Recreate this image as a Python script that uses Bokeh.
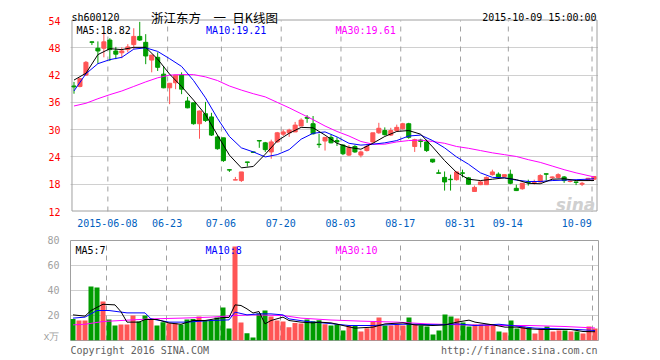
from bokeh.plotting import figure
from bokeh.layouts import column
from bokeh.models import Range1d, FixedTicker, Label
from bokeh.core.properties import value
from bokeh.embed import file_html
from bokeh.resources import INLINE

# ---------------- data ----------------
opens = [39.6, 39.5, 42.0, 49.3, 47.9, 47.9, 49.7, 47.3, 46.9, 47.6,
         48.7, 50.5, 49.2, 45.3, 45.9, 42.2, 39.2, 40.3, 42.0, 36.3,
         35.9, 31.3, 33.5, 32.8, 28.4, 28.2, 21.2, 18.9, 18.8, 22.9,
         25.1, 27.6, 27.1, 25.1, 27.3, 29.0, 29.3, 29.5, 30.8, 32.7,
         31.3, 26.8, 27.5, 28.3, 27.6, 26.6, 24.4, 26.3, 24.4, 25.4,
         27.3, 29.3, 29.8, 28.8, 29.8, 30.2, 31.3, 26.3, 27.7, 27.3,
         23.5, 20.5, 19.5, 19.1, 19.0, 20.5, 19.4, 16.4, 17.9, 17.9,
         20.1, 20.2, 19.7, 20.2, 17.1, 17.0, 18.5, 18.4, 18.5, 20.3,
         19.4, 19.5, 19.6, 18.6, 18.5, 18.0, 18.9, 19.1]
highs = [40.5, 41.4, 45.1, 49.4, 49.4, 51.4, 50.1, 48.2, 48.1, 48.8,
         52.3, 53.7, 51.0, 46.4, 47.0, 44.0, 40.2, 42.0, 42.6, 37.2,
         35.9, 34.2, 36.1, 33.7, 28.8, 28.2, 21.2, 19.6, 20.7, 22.9,
         25.1, 27.6, 27.3, 27.8, 29.5, 30.0, 30.2, 31.7, 32.5, 33.2,
         33.0, 29.1, 28.3, 28.9, 28.3, 26.8, 26.6, 26.6, 25.4, 26.8,
         29.3, 31.5, 30.5, 30.4, 31.1, 31.5, 31.5, 28.0, 28.0, 27.8,
         23.5, 21.2, 20.8, 20.1, 20.8, 21.2, 19.6, 17.7, 18.8, 19.7,
         21.2, 20.6, 20.1, 21.2, 17.9, 18.2, 19.0, 19.0, 20.2, 20.3,
         19.7, 20.4, 19.8, 18.9, 18.5, 18.5, 19.4, 19.8]
lows = [37.9, 39.3, 41.8, 48.6, 44.5, 45.9, 45.1, 45.5, 45.7, 47.0,
        47.7, 49.5, 44.4, 42.6, 42.9, 39.1, 35.6, 38.9, 37.8, 34.7,
        31.1, 28.0, 31.7, 28.6, 25.6, 22.9, 20.7, 18.9, 18.5, 21.9,
        24.9, 26.0, 25.1, 23.6, 27.1, 28.6, 28.4, 29.5, 30.8, 31.5,
        28.9, 26.0, 25.4, 27.0, 26.4, 24.4, 24.2, 24.9, 23.9, 25.2,
        27.1, 29.1, 28.7, 28.6, 29.5, 30.0, 28.0, 25.1, 26.1, 25.1,
        22.7, 20.4, 16.6, 16.6, 18.8, 19.5, 17.9, 16.3, 17.8, 17.9,
        19.9, 19.2, 19.6, 18.0, 16.5, 16.8, 17.7, 17.9, 18.3, 18.8,
        19.2, 19.3, 18.3, 18.4, 17.8, 17.6, 18.7, 18.9]
closes = [39.4, 41.2, 44.8, 49.2, 47.3, 49.3, 47.6, 46.6, 47.3, 48.2,
          50.5, 49.7, 46.2, 46.4, 43.7, 39.2, 40.2, 42.0, 38.9, 34.8,
          31.3, 34.1, 32.0, 28.8, 25.8, 23.2, 21.1, 19.0, 20.7, 22.8,
          25.0, 27.5, 25.6, 27.3, 29.3, 29.5, 29.9, 31.0, 32.1, 32.5,
          29.1, 26.7, 28.3, 27.1, 27.3, 24.7, 26.1, 25.1, 25.1, 26.3,
          29.3, 30.3, 28.9, 29.8, 30.5, 31.3, 28.3, 27.8, 27.4, 25.4,
          22.9, 20.4, 18.5, 19.0, 20.7, 20.4, 18.0, 17.3, 18.5, 19.5,
          20.7, 19.5, 20.1, 18.2, 16.6, 18.2, 18.4, 18.5, 19.9, 20.2,
          19.6, 20.1, 18.8, 18.7, 18.4, 18.2, 19.3, 19.7]
volumes = [17.3, 16.0, 16.0, 43.2, 42.4, 31.2, 16.8, 12.0, 12.8, 12.8,
           20.0, 15.2, 20.0, 16.8, 12.0, 14.7, 13.9, 13.9, 12.8, 16.8,
           17.3, 19.2, 16.5, 16.0, 18.4, 26.4, 9.6, 75.2, 14.4, 5.9,
           2.4, 21.9, 24.0, 19.2, 16.0, 15.2, 10.7, 14.1, 13.6, 16.8,
           15.5, 16.3, 13.1, 12.0, 12.8, 8.0, 12.0, 12.0, 7.2, 9.9,
           15.2, 18.4, 12.0, 12.0, 12.8, 12.0, 18.4, 12.8, 12.0, 11.2,
           4.8, 8.0, 20.8, 19.2, 17.6, 14.4, 11.2, 12.8, 12.8, 12.8,
           12.0, 7.2, 6.4, 16.0, 9.6, 11.2, 10.4, 5.6, 9.6, 11.2,
           7.2, 8.0, 8.0, 7.2, 7.2, 5.6, 11.2, 9.6]

# price moving averages at these bar indices
ma_idx = [0, 2, 4, 6, 8, 10, 12, 14, 16, 18, 20, 22, 24, 26, 28, 30, 32, 34,
          36, 38, 40, 42, 44, 46, 48, 50, 52, 54, 56, 58, 60, 62, 64, 66, 68,
          70, 72, 74, 76, 78, 80, 82, 84, 86, 87]
ma5 = [40.9, 42.4, 46.5, 47.8, 47.6, 48.1, 48.1, 45.5, 42.2, 39.5, 36.5, 33.3,
       28.8, 24.4, 21.6, 21.9, 24.6, 27.5, 29.2, 30.5, 30.4, 28.8, 27.0, 26.1,
       25.7, 27.0, 28.5, 29.6, 29.8, 29.0, 26.2, 23.2, 20.6, 19.1, 18.8, 19.1,
       19.4, 19.0, 18.2, 18.1, 19.1, 19.2, 18.8, 18.8, 18.82]
ma10 = [38.5, 42.3, 44.5, 45.4, 45.9, 47.7, 48.0, 47.2, 45.6, 43.9, 40.8, 37.0,
        32.5, 28.5, 26.0, 25.1, 24.0, 24.5, 25.6, 27.9, 29.2, 29.5, 28.4, 27.0,
        26.6, 26.8, 27.1, 27.6, 28.6, 28.8, 27.6, 26.0, 24.0, 22.4, 20.5, 19.5,
        19.4, 18.9, 18.6, 18.6, 18.8, 18.9, 19.0, 19.1, 19.21]
ma30 = [35.2, 35.8, 36.8, 37.7, 38.5, 39.5, 40.5, 41.4, 42.0, 42.1, 42.1, 41.6,
        40.8, 39.6, 38.7, 37.9, 37.2, 36.0, 34.8, 33.5, 32.2, 30.8, 29.6, 28.6,
        27.4, 26.8, 26.8, 27.3, 27.6, 27.7, 27.4, 27.0, 26.3, 25.9, 25.4, 24.9,
        24.5, 24.1, 23.4, 22.8, 22.0, 21.2, 20.5, 19.9, 19.61]

# volume moving averages (x10k shares)
vma5_idx = [0, 2, 3, 5, 7, 8, 9, 11, 12, 14, 16, 18, 20, 22, 25, 26, 27, 28,
            29, 30, 31, 32, 33, 35, 36, 38, 40, 41, 43, 45, 47, 50, 52, 55, 57,
            60, 62, 64, 66, 67, 70, 72, 74, 76, 78, 81, 83, 85, 87]
vma5 = [20.5, 19.5, 24.0, 29.0, 28.5, 23.0, 14.7, 14.7, 16.8, 16.8, 14.0, 13.0,
        16.0, 16.0, 18.4, 18.4, 28.5, 28.0, 25.3, 22.0, 23.2, 13.3, 16.0, 18.7,
        16.0, 14.7, 14.1, 14.7, 14.1, 12.0, 9.9, 10.7, 13.3, 14.1, 12.5, 12.0,
        12.5, 14.7, 16.3, 14.7, 12.5, 10.7, 10.7, 9.3, 8.8, 8.8, 8.8, 7.2, 7.0]
vma10_idx = [0, 2, 4, 6, 9, 12, 13, 16, 19, 23, 26, 27, 29, 31, 33, 35, 36, 39,
             43, 46, 50, 52, 55, 57, 61, 64, 67, 71, 74, 77, 81, 84, 87]
vma10 = [17.9, 18.7, 24.0, 24.0, 22.1, 22.1, 17.3, 14.7, 14.7, 16.0, 16.5, 22.7,
         20.5, 21.3, 21.3, 20.5, 17.3, 15.2, 13.5, 12.0, 12.0, 12.5, 13.0, 13.0,
         12.5, 13.3, 12.0, 13.0, 11.5, 9.9, 9.3, 8.8, 8.0]
vma30_idx = [0, 2, 5, 8, 13, 18, 23, 27, 30, 35, 38, 43, 48, 54, 59, 65, 71, 76,
             82, 87]
vma30 = [12.5, 13.0, 15.2, 16.0, 17.3, 17.9, 18.7, 20.0, 20.5, 20.0, 17.9, 16.4,
         15.5, 14.7, 13.3, 12.5, 12.0, 12.0, 11.2, 10.0]

# date ticks: bar index of each labelled trading day
date_idx = [6, 16, 25, 35, 45, 55, 65, 73, 87]
date_lbl = ["2015-06-08", "06-23", "07-06", "07-20", "08-03", "08-17",
            "08-31", "09-14", "10-09"]
price_ticks = [12, 18, 24, 30, 36, 42, 48, 54]
vol_ticks = [0, 20, 40, 60, 80]
PMIN, PMAX = 12, 54

# ---------------- style ----------------
RED = "#ff5555"
GREEN = "#009c00"
BLUE = "#0000ff"
MAG = "#ff00ff"
GRID = "#a0a0a0"
MONO = "DejaVu Sans Mono"

n = len(opens)
idx = list(range(n))
colors = [RED if c >= o else GREEN for o, c in zip(opens, closes)]
tops = [max(o, c) for o, c in zip(opens, closes)]
bots = [min(o, c) for o, c in zip(opens, closes)]
XR = (-0.4167, 87.5833)          # 6 px per trading day
PX_X = 1 / 6.0                   # one pixel in x data units
PX_Y = 42 / 191.0                # one pixel in price units


def style_axes(f):
    for ax in f.axis:
        ax.axis_line_color = None
        ax.major_tick_line_color = None
        ax.minor_tick_line_color = None
        ax.major_label_text_font = MONO
        ax.major_label_text_font_size = "10px"


def lab(f, x, y, text, color="black", align="left", size="10px", font=MONO, style="normal"):
    f.add_layout(Label(x=x, y=y, text=text, text_color=color, text_align=align,
                       text_font=font, text_font_size=size, text_font_style=style,
                       text_baseline="alphabetic"))


def txt(f, x, y, text, color="black", align="left", size="10px", font=MONO):
    f.text(x=[x], y=[y], text=[text], text_color=color, text_align=align,
           text_font=value(font), text_font_size=size, text_baseline="alphabetic")


# ---------------- price panel (header lives in the top of its frame) ----------------
p = figure(width=660, height=232,
           x_range=Range1d(XR[0] - PX_X, XR[1] + PX_X),
           y_range=Range1d(PMIN - PX_Y, PMAX + 20 * PX_Y),
           output_backend="svg", toolbar_location=None,
           min_border_left=69, min_border_right=61, min_border_top=0, min_border_bottom=20)
p.outline_line_color = None
p.border_fill_color = "white"
p.xgrid.visible = False
p.ygrid.ticker = FixedTicker(ticks=[18, 24, 30, 36, 42, 48])
p.ygrid.grid_line_color = GRID
p.ygrid.grid_line_dash = "1 1"
style_axes(p)
p.yaxis.ticker = FixedTicker(ticks=price_ticks)
p.yaxis.major_label_text_color = "#ff0000"
p.yaxis.major_label_standoff = 4
tick_pos = [i - 0.42 for i in date_idx[:-1]] + [date_idx[-1] - 2.9]
p.xaxis.ticker = FixedTicker(ticks=tick_pos)
p.xaxis.major_label_overrides = {t: s for t, s in zip(tick_pos, date_lbl)}
p.xaxis.major_label_text_color = "#0060c0"
p.xaxis.major_label_standoff = 0

# vertical dashed date lines and the panel border
vx = [i - 0.4167 + 0.5 * PX_X for i in date_idx]
p.segment(x0=vx, y0=[PMIN] * len(vx), x1=vx, y1=[PMAX] * len(vx),
          line_color=GRID, line_width=1, line_dash="5 5")
bl, br = XR[0] + 0.5 * PX_X, XR[1] - 0.5 * PX_X
bb, bt = PMIN + 0.5 * PX_Y, PMAX + 0.5 * PX_Y
p.segment(x0=[bl, br, bl, bl], y0=[bb, bb, bt, bb], x1=[bl, br, br, br], y1=[bt, bt, bt, bb],
          line_color=GRID, line_width=1)

p.segment(x0=idx, y0=lows, x1=idx, y1=highs, color=colors, line_width=1)
p.vbar(x=idx, width=0.68, top=tops, bottom=bots, fill_color=colors, line_color=colors, line_width=1)
p.line(ma_idx, ma30, color=MAG, line_width=1)
p.line(ma_idx, ma10, color=BLUE, line_width=1)
p.line(ma_idx, ma5, color="black", line_width=1)

lab(p, 0.42, 51.9, "MA5:%.2f" % ma5[-1], "black")
lab(p, 22.1, 51.9, "MA10:%.2f" % ma10[-1], BLUE)
lab(p, 43.75, 51.9, "MA30:%.2f" % ma30[-1], MAG)
lab(p, 83.9, 13.4, "sina", "#d0d0d0", align="center", size="17px", font="DejaVu Sans", style="bold italic")

txt(p, -0.42, PMAX + 3.0 * PX_Y, "sh600120")
txt(p, 12.9, PMAX + 3.5 * PX_Y, "浙江东方\u3000一\u2002日K线图", size="12.5px", font="Noto Sans CJK SC")
txt(p, 87.42, PMAX + 3.0 * PX_Y, "2015-10-09 15:00:00", align="right")

# ---------------- volume panel ----------------
v = figure(width=660, height=109, x_range=Range1d(*XR), y_range=Range1d(0, 80),
           output_backend="svg", toolbar_location=None,
           min_border_left=70, min_border_right=62, min_border_top=8, min_border_bottom=1)
v.outline_line_color = GRID
v.outline_line_width = 1
v.border_fill_color = "white"
v.xgrid.ticker = FixedTicker(ticks=[i - 0.42 for i in date_idx])
v.xgrid.grid_line_color = GRID
v.xgrid.grid_line_dash = "5 5"
v.ygrid.ticker = FixedTicker(ticks=[20, 40, 60])
v.ygrid.grid_line_color = GRID
v.ygrid.grid_line_dash = "1 1"
style_axes(v)
v.yaxis.ticker = FixedTicker(ticks=vol_ticks)
v.yaxis.major_label_overrides = {0: "x万"}
v.yaxis.major_label_text_color = "#a0a0a0"
v.yaxis.major_label_standoff = 5
v.xaxis.visible = False

v.vbar(x=idx, width=0.8333, top=volumes, bottom=0, fill_color=colors, line_color=None)
v.line(vma30_idx, vma30, color=MAG, line_width=1)
v.line(vma10_idx, vma10, color=BLUE, line_width=1)
v.line(vma5_idx, vma5, color="black", line_width=1)

lab(v, 0.42, 72.0, "MA5:%d" % round(vma5[-1]), "black")
lab(v, 22.1, 72.0, "MA10:%d" % round(vma10[-1]), BLUE)
lab(v, 43.75, 72.0, "MA30:%d" % round(vma30[-1]), MAG)

# ---------------- footer ----------------
ft = figure(width=660, height=19, x_range=Range1d(*XR), y_range=Range1d(0, 19),
            output_backend="svg", toolbar_location=None, x_axis_type=None,
            y_axis_type=None, min_border_left=70, min_border_right=62,
            min_border_top=0, min_border_bottom=0)
ft.outline_line_color = None
ft.grid.visible = False
ft.border_fill_color = "white"
txt(ft, -0.42, 10.5, "Copyright 2016 SINA.COM", "#606060")
txt(ft, 87.42, 10.5, "http://finance.sina.com.cn", "#606060", align="right")

layout = column(p, v, ft, spacing=0)
open("out.html", "w").write(file_html(layout, INLINE))
